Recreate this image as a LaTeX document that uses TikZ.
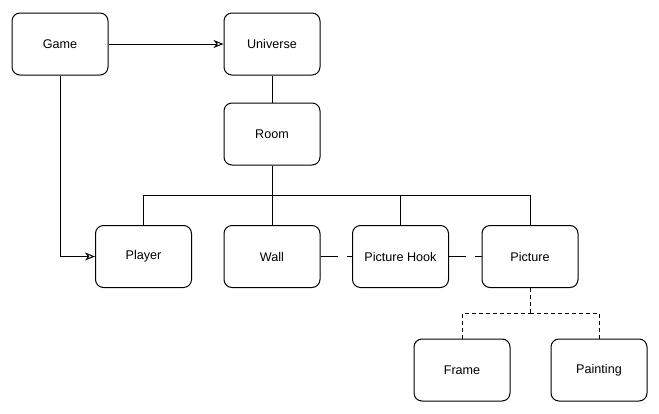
\documentclass[tikz,border=0pt]{standalone}
\usepackage{fontspec}
\setmainfont{Liberation Sans}
\usetikzlibrary{arrows.meta, positioning}
\tikzset{
  every picture/.style={line width=1pt, x=1pt, y=-1pt},
  cls/.style={draw, rounded corners=8pt, align=center, minimum width=96pt, minimum height=62pt, font=\fontsize{12.6}{14}\selectfont},
  arrow/.style={-{Stealth[open, length=10pt, width=8pt, inset=3pt]}},
  link/.style={dash pattern=on 17pt off 9pt},
  sub/.style={dash pattern=on 4pt off 3pt},
}
\begin{document}
\begin{tikzpicture}
  \useasboundingbox (0,0) rectangle (659,413);
  \node[cls] (game) at (60,44) {Game};
  \node[cls] (universe) at (272,44) {Universe};
  \node[cls] (room) at (272,134) {Room};
  \node[cls] (player) at (143.5,256.5) {Player};
  \node[cls] (wall) at (272,256.5) {Wall};
  \node[cls] (hook) at (400.5,256.5) {Picture Hook};
  \node[cls] (picture) at (530,256.5) {Picture};
  \node[cls] (frame) at (462,370) {Frame};
  \node[cls] (painting) at (599,370) {Painting};
  \draw[arrow] (game) -- (universe);
  \draw[arrow] (game.south) |- (player.west);
  \draw (universe) -- (room);
  % room contains
  \coordinate (bus) at (272,195);
  \draw (room.south) -- (bus);
  \foreach \n in {player,wall,hook,picture}
    \draw (\n.north) -- (\n.north |- bus) -- (bus);
  \draw[link] (wall) -- (hook);
  \draw[link] (hook) -- (picture);
  % picture parts
  \coordinate (split) at (530,313);
  \draw[sub] (picture.south) -- (split);
  \foreach \n in {frame,painting}
    \draw[sub] (\n.north) -- (\n.north |- split) -- (split);
\end{tikzpicture}
\end{document}
